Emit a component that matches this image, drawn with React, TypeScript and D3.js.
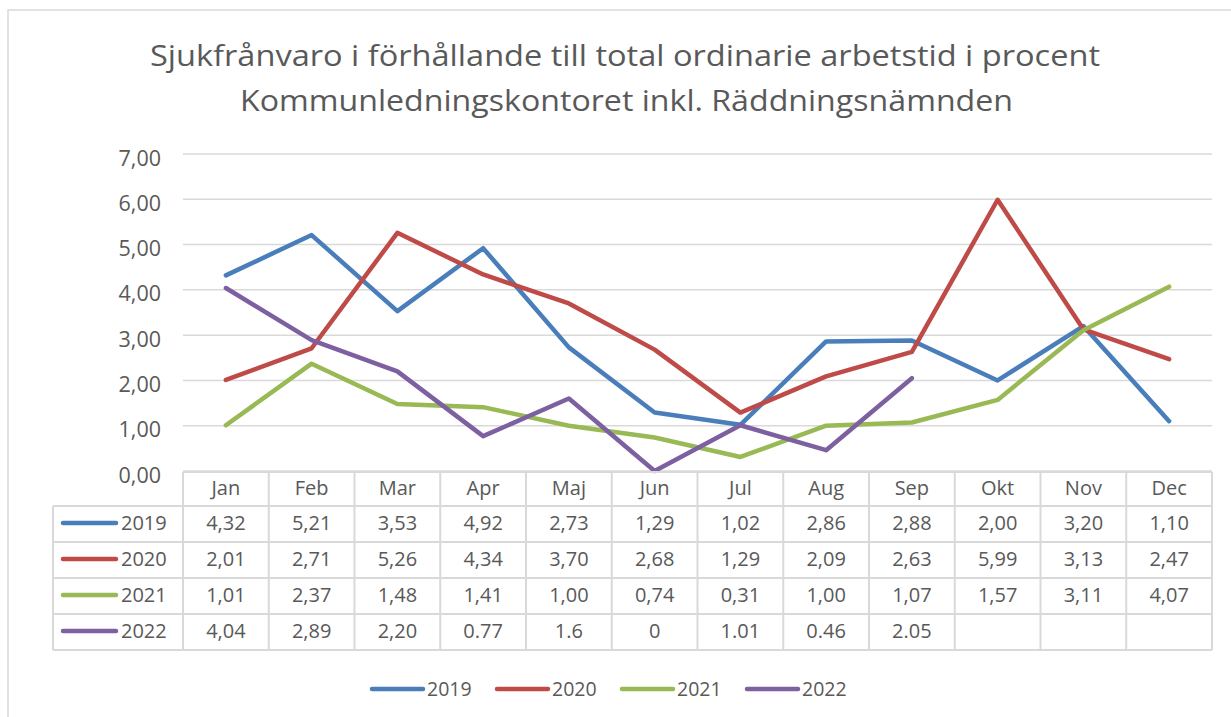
import React from 'react';
import * as d3 from 'd3';

const months = ['Jan', 'Feb', 'Mar', 'Apr', 'Maj', 'Jun', 'Jul', 'Aug', 'Sep', 'Okt', 'Nov', 'Dec'];
const years = ['2019', '2020', '2021', '2022'];
const v2019 = [4.32, 5.21, 3.53, 4.92, 2.73, 1.29, 1.02, 2.86, 2.88, 2.0, 3.2, 1.1];
const v2020 = [2.01, 2.71, 5.26, 4.34, 3.7, 2.68, 1.29, 2.09, 2.63, 5.99, 3.13, 2.47];
const v2021 = [1.01, 2.37, 1.48, 1.41, 1.0, 0.74, 0.31, 1.0, 1.07, 1.57, 3.11, 4.07];
const v2022 = [4.04, 2.89, 2.2, 0.77, 1.6, 0, 1.01, 0.46, 2.05, null, null, null];
// the 2022 row in the source table mixes decimal commas and points
const labels2022 = ['4,04', '2,89', '2,20', '0.77', '1.6', '0', '1.01', '0.46', '2.05', '', '', ''];
const yTicks = [0, 1, 2, 3, 4, 5, 6, 7];
const colors = ['#4a7ebb', '#be4b48', '#98b954', '#7d60a0'];
const titleLines = [
  'Sjukfrånvaro i förhållande till total ordinarie arbetstid i procent',
  'Kommunledningskontoret inkl. Räddningsnämnden',
];

const W = 1231;
const H = 717;
const font = '"Open Sans", Lato, sans-serif';
const textColor = '#595959';
const gridColor = '#d9d9d9';

export default function App() {
  const series = [v2019, v2020, v2021, v2022];
  const fmt = (v: number) => v.toFixed(2).replace('.', ',');
  const tableLabels = [v2019.map(fmt), v2020.map(fmt), v2021.map(fmt), labels2022];

  const x = d3.scaleBand<string>().domain(months).range([183, 1212]).padding(0);
  const bw = x.bandwidth();
  const cx = (m: string) => (x(m) as number) + bw / 2;
  const y = d3.scaleLinear().domain([0, 7]).range([471, 154]);

  const line = d3
    .line<number | null>()
    .defined((d) => d !== null)
    .x((_, i) => cx(months[i]))
    .y((d) => y(d as number));

  // table geometry
  const tableTop = 472;
  const headerBottom = 506;
  const rowH = 36;
  const labelLeft = 53;
  const rowY = (i: number) => headerBottom + i * rowH;
  const tableBottom = rowY(years.length);

  const legendX = [372, 497, 622, 747];
  // title is stretched a bit wide in the original
  const titleSpan = [[150, 1100], [240, 1013]];

  return (
    <svg width={W} height={H} style={{ position: 'absolute', left: 0, top: 0, background: '#fff' }} fontFamily={font}>
      <rect x={8} y={10} width={W + 20} height={H + 20} fill="#fff" stroke={gridColor} strokeWidth={1.5} />

      {titleLines.map((t, i) => (
        <text
          key={t}
          x={titleSpan[i][0]}
          y={66 + i * 45}
          fontSize={29.5}
          fill={textColor}
          textLength={titleSpan[i][1] - titleSpan[i][0]}
          lengthAdjust="spacingAndGlyphs"
        >
          {t}
        </text>
      ))}

      {/* grid + y labels */}
      {yTicks.map((t) => (
        <g key={t}>
          <line x1={183} x2={1212} y1={y(t)} y2={y(t)} stroke={gridColor} strokeWidth={1.5} />
          <text x={161} y={y(t) + 4} dy="0.35em" textAnchor="end" fontSize={21.5} fill={textColor}>
            {fmt(t)}
          </text>
        </g>
      ))}

      {/* lines */}
      {series.map((s, i) => (
        <path key={years[i]} d={line(s) || ''} fill="none" stroke={colors[i]} strokeWidth={4.5} strokeLinejoin="round" strokeLinecap="round" />
      ))}

      {/* data table */}
      <g stroke={gridColor} strokeWidth={2} fill="none">
        <line x1={183} x2={1212} y1={tableTop} y2={tableTop} />
        {years.map((yr, i) => (
          <line key={yr} x1={labelLeft} x2={1212} y1={rowY(i)} y2={rowY(i)} />
        ))}
        <line x1={labelLeft} x2={1212} y1={tableBottom} y2={tableBottom} />
        <line x1={labelLeft} x2={labelLeft} y1={headerBottom} y2={tableBottom} />
        {months.map((m) => (
          <line key={m} x1={x(m) as number} x2={x(m) as number} y1={tableTop} y2={tableBottom} />
        ))}
        <line x1={1212} x2={1212} y1={tableTop} y2={tableBottom} />
      </g>
      {months.map((m) => (
        <text key={m} x={cx(m)} y={(tableTop + headerBottom) / 2 - 1.5} dy="0.35em" textAnchor="middle" fontSize={20} fill={textColor}>
          {m}
        </text>
      ))}
      {years.map((yr, i) => {
        const ym = rowY(i) + rowH / 2;
        return (
          <g key={yr}>
            <line x1={63} x2={116} y1={ym - 1} y2={ym - 1} stroke={colors[i]} strokeWidth={4.5} strokeLinecap="round" />
            <text x={121} y={ym - 1} dy="0.35em" fontSize={20} fill={textColor}>
              {yr}
            </text>
            {tableLabels[i].map((l, j) => (
              <text key={j} x={cx(months[j])} y={ym - 1} dy="0.35em" textAnchor="middle" fontSize={20} fill={textColor}>
                {l}
              </text>
            ))}
          </g>
        );
      })}

      {/* legend */}
      {years.map((yr, i) => (
        <g key={yr}>
          <line x1={legendX[i]} x2={legendX[i] + 51} y1={689} y2={689} stroke={colors[i]} strokeWidth={4.5} strokeLinecap="round" />
          <text x={legendX[i] + 55} y={689} dy="0.35em" fontSize={19.5} fill={textColor}>
            {yr}
          </text>
        </g>
      ))}
    </svg>
  );
}
